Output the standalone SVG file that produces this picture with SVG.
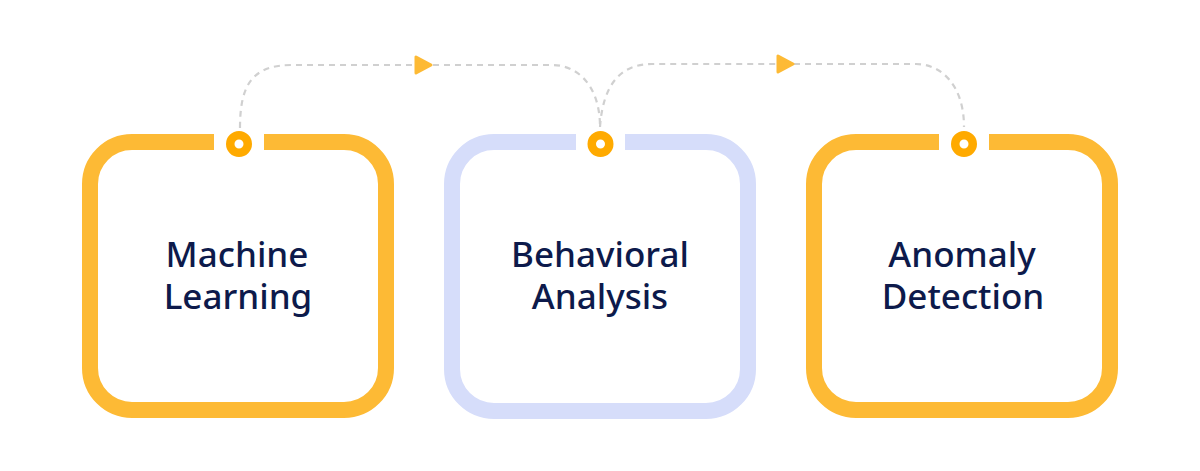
<svg xmlns="http://www.w3.org/2000/svg" width="1200" height="471" viewBox="0 0 1200 471">
<defs>
<style>
.box{fill:none;stroke-width:16;stroke-linecap:butt}
.orange{stroke:#FDBA35}
.lav{stroke:#D6DDFA}
.dot{fill:none;stroke:#FFAA00;stroke-width:8.5}
.conn{fill:none;stroke:#D0D0D0;stroke-width:2.2;stroke-dasharray:6 5}
.arr{fill:#FDBA35;stroke:#FDBA35;stroke-width:3;stroke-linejoin:round}
.lbl{font-family:"Noto Sans","Open Sans",sans-serif;font-size:35px;font-weight:500;fill:#0D1A4B;text-anchor:middle}
</style>
</defs>
<rect width="1200" height="471" fill="#FFFFFF"/>
<g id="connectors">
<path class="conn" d="M240,128 C240,85 252,65 292,65 H415"/>
<path class="conn" d="M433,65 H552 C577,65 600,85 600,127"/>
<path class="conn" d="M600,127 C603,85 620,64 652,64 H776"/>
<path class="conn" d="M794,64 H916 C941,64 964,85 964,127"/>
<polygon class="arr" points="416,57 416,73 431,65"/>
<polygon class="arr" points="778,56 778,72 793,64"/>
</g>
<g id="node-machine-learning">
<path class="box orange" d="M264,142 H344 A42,42 0 0 1 386,184 V368 A42,42 0 0 1 344,410 H132 A42,42 0 0 1 90,368 V184 A42,42 0 0 1 132,142 H214"/>
<circle class="dot" cx="239" cy="144" r="8.75"/>
<text class="lbl" x="237" y="267">Machine</text>
<text class="lbl" x="238" y="309">Learning</text>
</g>
<g id="node-behavioral-analysis">
<path class="box lav" d="M625,142 H706 A42,42 0 0 1 748,184 V369 A42,42 0 0 1 706,411 H494 A42,42 0 0 1 452,369 V184 A42,42 0 0 1 494,142 H576"/>
<circle class="dot" cx="600.5" cy="144" r="8.75"/>
<text class="lbl" x="600" y="267">Behavioral</text>
<text class="lbl" x="600" y="309">Analysis</text>
</g>
<g id="node-anomaly-detection">
<path class="box orange" d="M989,142 H1068 A42,42 0 0 1 1110,184 V368 A42,42 0 0 1 1068,410 H856 A42,42 0 0 1 814,368 V184 A42,42 0 0 1 856,142 H939"/>
<circle class="dot" cx="964" cy="144" r="8.75"/>
<text class="lbl" x="962" y="267">Anomaly</text>
<text class="lbl" x="963" y="309">Detection</text>
</g>
</svg>
